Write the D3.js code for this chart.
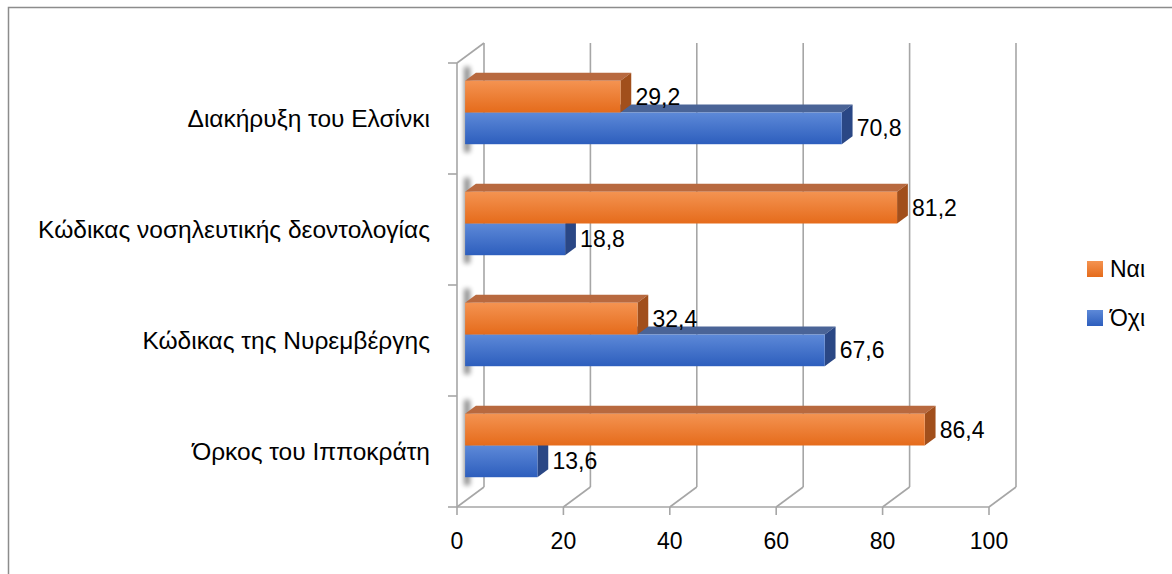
<!DOCTYPE html>
<html>
<head>
<meta charset="utf-8">
<script src="https://cdn.jsdelivr.net/npm/d3@7"></script>
<style>
  body { margin: 0; background: #fff; }
  svg { display: block; }
  text { font-family: "Liberation Sans", Arial, sans-serif; fill: #000; }
</style>
</head>
<body>
<svg id="chart" width="1172" height="574"></svg>
<script>
// Survey answers per ethics document (percent)
const categories = [
  "Διακήρυξη του Ελσίνκι",
  "Κώδικας νοσηλευτικής δεοντολογίας",
  "Κώδικας της Νυρεμβέργης",
  "Όρκος του Ιπποκράτη"
];
const seriesNames = ["Ναι", "Όχι"];
const valuesNai = [29.2, 81.2, 32.4, 86.4];
const valuesOxi = [70.8, 18.8, 67.6, 13.6];
const xTicks = [0, 20, 40, 60, 80, 100];

const seriesValues = { "Ναι": valuesNai, "Όχι": valuesOxi };

const svg = d3.select("#chart");
const W = 1172, H = 574;
const FONT_CAT = 24.5, FONT_VAL = 23, FONT_TICK = 23, FONT_LEG = 23;

// Plot geometry (front plane) and 3D depth offset
const plot = { left: 457, right: 989, top: 63, bottom: 507 };
const DEPTH_X = 27, DEPTH_Y = -20;
const barFront = 0.3, barBack = 0.7;   // bar depth span as fraction of full depth

const x = d3.scaleLinear().domain([0, 100]).range([plot.left, plot.right]);
const y0 = d3.scaleBand().domain(categories).range([plot.top, plot.bottom]);
const y1 = d3.scaleBand().domain(seriesNames).range([0, y0.bandwidth()])
  .paddingInner(0).paddingOuter(0.75);

const fmt = d3.formatLocale({ decimal: ",", thousands: ".", grouping: [3], currency: ["", "€"] }).format(".1f");

const gridColor = "#A6A6A6";

// Chart area border
svg.append("rect")
  .attr("x", 8.5).attr("y", 7.5).attr("width", W + 20).attr("height", H + 20)
  .attr("fill", "#fff").attr("stroke", "#8C8C8C").attr("stroke-width", 1.5);

const defs = svg.append("defs");
const palette = {
  "Ναι": { top: "#F49351", bottom: "#E56B1B", cap: "#B8693F", side: "#A14F1C" },
  "Όχι": { top: "#5D89D8", bottom: "#2D5EBD", cap: "#4A6497", side: "#2A4785" }
};
seriesNames.forEach((s, i) => {
  const g = defs.append("linearGradient").attr("id", "grad" + i)
    .attr("x1", 0).attr("y1", 0).attr("x2", 0).attr("y2", 1);
  g.append("stop").attr("offset", "0%").attr("stop-color", palette[s].top);
  g.append("stop").attr("offset", "100%").attr("stop-color", palette[s].bottom);
});
defs.append("filter").attr("id", "soft")
  .attr("x", "-200%").attr("y", "-50%").attr("width", "500%").attr("height", "200%")
  .append("feGaussianBlur").attr("stdDeviation", 2.5);

// Back wall gridlines
const back = svg.append("g");
back.selectAll("line").data(xTicks).join("line")
  .attr("x1", d => x(d) + DEPTH_X).attr("x2", d => x(d) + DEPTH_X)
  .attr("y1", plot.top + DEPTH_Y).attr("y2", plot.bottom + DEPTH_Y)
  .attr("stroke", gridColor).attr("stroke-width", 1.6);

// Floor: depth lines at each tick
back.selectAll("line.floor").data(xTicks).join("line").attr("class", "floor")
  .attr("x1", d => x(d)).attr("y1", plot.bottom)
  .attr("x2", d => x(d) + DEPTH_X).attr("y2", plot.bottom + DEPTH_Y)
  .attr("stroke", gridColor).attr("stroke-width", 1.6);

// Left wall top edge
back.append("line")
  .attr("x1", plot.left).attr("y1", plot.top)
  .attr("x2", plot.left + DEPTH_X).attr("y2", plot.top + DEPTH_Y)
  .attr("stroke", gridColor).attr("stroke-width", 1.6);

// Category axis (left) with tick marks at band edges
const catEdges = categories.map(c => y0(c)).concat([plot.bottom]);
back.append("line")
  .attr("x1", plot.left).attr("x2", plot.left)
  .attr("y1", plot.top).attr("y2", plot.bottom)
  .attr("stroke", gridColor).attr("stroke-width", 1.6);
back.selectAll("line.ctick").data(catEdges).join("line").attr("class", "ctick")
  .attr("x1", plot.left - 9).attr("x2", plot.left)
  .attr("y1", d => d).attr("y2", d => d)
  .attr("stroke", gridColor).attr("stroke-width", 1.6);

// Value axis (bottom)
back.append("line")
  .attr("x1", plot.left).attr("x2", plot.right)
  .attr("y1", plot.bottom).attr("y2", plot.bottom)
  .attr("stroke", gridColor).attr("stroke-width", 1.6);
back.selectAll("line.xtick").data(xTicks).join("line").attr("class", "xtick")
  .attr("x1", d => x(d)).attr("x2", d => x(d))
  .attr("y1", plot.bottom).attr("y2", plot.bottom + 8)
  .attr("stroke", gridColor).attr("stroke-width", 1.6);
svg.append("g").selectAll("text").data(xTicks).join("text")
  .attr("x", d => x(d)).attr("y", 549)
  .attr("text-anchor", "middle").attr("font-size", FONT_TICK)
  .text(d => d);

// Category labels
svg.append("g").selectAll("text").data(categories).join("text")
  .attr("x", 430).attr("y", c => y0(c) + y0.bandwidth() / 2 + 8.5)
  .attr("text-anchor", "end").attr("font-size", FONT_CAT)
  .text(c => c);

// 3D bars
const fx = barFront * DEPTH_X, fy = barFront * DEPTH_Y;
const bx = barBack * DEPTH_X, by = barBack * DEPTH_Y;
const bars = svg.append("g");

categories.forEach((c, ci) => {
  const gy = y0(c);
  const groupTop = gy + y1(seriesNames[0]) + fy;
  const groupBottom = gy + y1(seriesNames[seriesNames.length - 1]) + y1.bandwidth() + fy;
  // soft shading where the bars meet the side wall
  bars.append("rect")
    .attr("x", x(0) + fx - 1).attr("y", groupTop - 14)
    .attr("width", 6).attr("height", groupBottom - groupTop + 22)
    .attr("fill", "#000").attr("opacity", 0.45).attr("filter", "url(#soft)");

  // draw lower series first so upper bars sit in front
  seriesNames.slice().reverse().forEach(s => {
    const si = seriesNames.indexOf(s);
    const v = seriesValues[s][ci];
    const yT = gy + y1(s), yB = yT + y1.bandwidth();
    const x0 = x(0), xv = x(v);
    const g = bars.append("g");
    // top face
    g.append("polygon")
      .attr("points", [[x0 + fx, yT + fy], [xv + fx, yT + fy], [xv + bx, yT + by], [x0 + bx, yT + by]].join(" "))
      .attr("fill", palette[s].cap);
    // side face
    g.append("polygon")
      .attr("points", [[xv + fx, yT + fy], [xv + bx, yT + by], [xv + bx, yB + by], [xv + fx, yB + fy]].join(" "))
      .attr("fill", palette[s].side);
    // front face
    g.append("rect")
      .attr("x", x0 + fx).attr("y", yT + fy)
      .attr("width", xv - x0).attr("height", yB - yT)
      .attr("fill", "url(#grad" + si + ")");
  });
});

// Value labels
const labels = svg.append("g");
categories.forEach((c, ci) => {
  seriesNames.forEach(s => {
    const v = seriesValues[s][ci];
    const yT = y0(c) + y1(s);
    labels.append("text")
      .attr("x", x(v) + fx + 15)
      .attr("y", yT + fy + y1.bandwidth() / 2 + 8)
      .attr("font-size", FONT_VAL)
      .text(fmt(v));
  });
});

// Legend
const legend = svg.append("g");
seriesNames.forEach((s, i) => {
  const ly = 261 + i * 49;
  legend.append("rect")
    .attr("x", 1087).attr("y", ly).attr("width", 16).attr("height", 16)
    .attr("fill", "url(#grad" + i + ")");
  legend.append("text")
    .attr("x", 1110).attr("y", ly + 16)
    .attr("font-size", FONT_LEG)
    .text(s);
});
</script>
</body>
</html>
